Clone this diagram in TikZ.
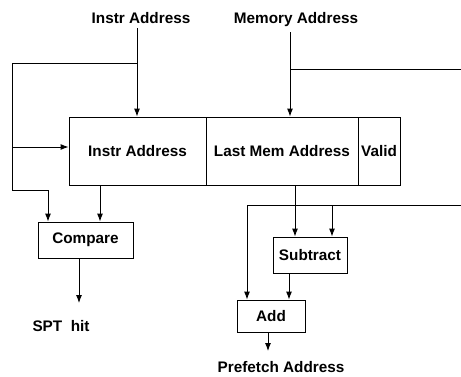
\documentclass[tikz,border=0pt]{standalone}
\usepackage{fontspec}
\setmainfont{Liberation Sans}
\usetikzlibrary{arrows.meta}
\begin{document}
\begin{tikzpicture}[x=1pt,y=-1pt,
  lbl/.style={font=\fontsize{15.3}{17}\selectfont\bfseries, inner sep=0pt, anchor=base},
  box/.style={draw, line width=0.9pt, inner sep=0pt, font=\fontsize{15.3}{17}\selectfont\bfseries},
  wire/.style={line width=0.9pt},
  arr/.style={wire, -{Latex[length=8pt,width=6pt]}}]
\useasboundingbox (0,0) rectangle (461,376);
% titles
\node[lbl] (ti) at (141,23) {Instr Address};
\node[lbl] (tm) at (296,23) {Memory Address};
% register
\node[box, minimum width=137pt, minimum height=68pt] (instr) at (137.5,151) {Instr Address};
\node[box, minimum width=152pt, minimum height=68pt] (last) at (282,151) {Last Mem Address};
\node[box, minimum width=42pt, minimum height=68pt] (valid) at (379,151) {Valid};
% compare
\node[box, minimum width=95pt, minimum height=36pt] (cmp) at (85.5,240) {Compare};
\node[lbl] (spt) at (61,331) {SPT\ \ hit};
% subtract, add
\node[box, minimum width=74pt, minimum height=36pt] (sub) at (310,255) {Subtract};
\node[box, minimum width=68pt, minimum height=32pt] (add) at (271,316) {Add};
\node[lbl] (pf) at (281,372) {Prefetch Address};
% coordinates
\coordinate (j1) at (137,63);
\coordinate (l1) at (12,63);
\coordinate (l2) at (12,190);
\coordinate (l3) at (48,190);
\coordinate (j2) at (290,69);
\coordinate (r1) at (461,69);
\coordinate (h1) at (247,205);
\coordinate (h2) at (332,205);
\coordinate (r2) at (461,205);
\coordinate (so) at (79,303);
\coordinate (ao) at (268,351);
% wires
\draw[arr] (ti.south -| j1) ++(0,5) -- (j1 |- instr.north);
\draw[wire] (j1) -- (l1) -- (l2) -- (l3);
\draw[arr] (l3) -- (l3 |- cmp.north);
\draw[arr] (l1 |- 0,147) -- (instr.west |- 0,147);
\draw[arr] (instr.south -| 100,0) -- (cmp.north -| 100,0);
\draw[arr] (cmp.south -| so) -- (so);
\draw[arr] (tm.south -| j2) ++(0,6) -- (j2 |- last.north);
\draw[wire] (j2) -- (r1);
\draw[arr] (last.south -| 295,0) -- (sub.north -| 295,0);
\draw[wire] (r2) -- (h1);
\draw[arr] (h2) -- (h2 |- sub.north);
\draw[arr] (h1) -- (h1 |- add.north);
\draw[arr] (sub.south -| 289,0) -- (add.north -| 289,0);
\draw[arr] (add.south -| ao) -- (ao);
\end{tikzpicture}
\end{document}
